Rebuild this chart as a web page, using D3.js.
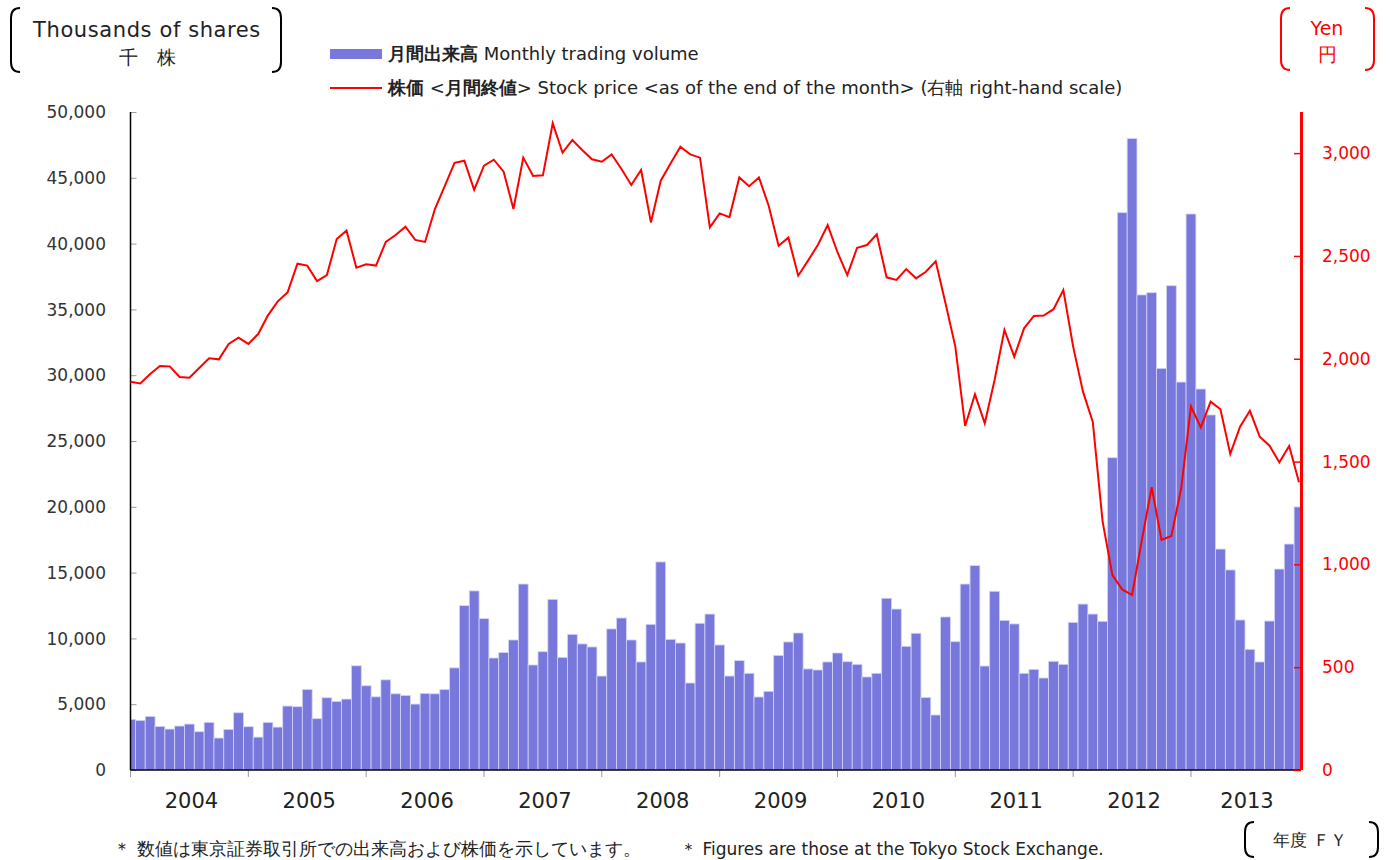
<!DOCTYPE html>
<html>
<head>
<meta charset="utf-8">
<script src="https://cdn.jsdelivr.net/npm/d3@7"></script>
<style>
  body { margin: 0; background: #fff; }
  text { font-family: "DejaVu Sans", sans-serif; }
</style>
</head>
<body>
<svg id="chart"></svg>
<script>
// fiscal years shown on the category axis (each runs April..March)
const fiscalYears = ['2004','2005','2006','2007','2008','2009','2010','2011','2012','2013'];
const monthNames = ['04','05','06','07','08','09','10','11','12','01','02','03'];

// monthly trading volume, thousands of shares
const volume = [
  3850, 3770, 4070, 3310, 3110, 3340, 3490, 2910, 3620, 2430, 3090, 4350,
  3290, 2500, 3620, 3260, 4860, 4810, 6120, 3900, 5490, 5210, 5390, 7920,
  6400, 5560, 6850, 5790, 5670, 5010, 5820, 5790, 6120, 7760, 12490, 13610,
  11500, 8510, 8920, 9880, 14130, 7980, 8990, 12970, 8560, 10310, 9580, 9350,
  7140, 10720, 11550, 9880, 8210, 11070, 15810, 9930, 9650, 6610, 11150, 11850,
  9500, 7140, 8310, 7350, 5550, 5980, 8710, 9730, 10410, 7680, 7600, 8210,
  8890, 8230, 8030, 7070, 7350, 13050, 12230, 9400, 10390, 5500, 4180, 11630,
  9750, 14130, 15530, 7900, 13580, 11370, 11100, 7350, 7650, 6990, 8260, 8030,
  11220, 12610, 11850, 11300, 23730, 42350, 47980, 36100, 36270, 30520, 36800, 29480,
  42250, 28950, 26980, 16790, 15200, 11400, 9170, 8210, 11320, 15270, 17170, 19990
];

// stock price at month end, yen
const price = [
  1888, 1880, 1926, 1965, 1963, 1911, 1908, 1955, 2002, 1997, 2072, 2103,
  2072, 2120, 2211, 2279, 2323, 2462, 2453, 2378, 2407, 2582, 2623, 2443,
  2459, 2453, 2568, 2602, 2642, 2578, 2568, 2728, 2840, 2953, 2963, 2821,
  2939, 2968, 2910, 2728, 2978, 2889, 2892, 3145, 3002, 3064, 3015, 2970,
  2958, 2994, 2923, 2845, 2918, 2663, 2866, 2950, 3031, 2994, 2978, 2639,
  2707, 2689, 2882, 2839, 2882, 2743, 2550, 2589, 2404, 2477, 2553, 2650,
  2518, 2407, 2540, 2553, 2605, 2396, 2383, 2436, 2391, 2423, 2474, 2270,
  2059, 1673, 1827, 1686, 1897, 2140, 2010, 2148, 2208, 2210, 2241, 2334,
  2059, 1840, 1693, 1208, 948, 878, 851, 1119, 1375, 1119, 1138, 1369,
  1767, 1666, 1791, 1754, 1537, 1670, 1747, 1621, 1577, 1496, 1576, 1399
];

const volumeTicks = [0, 5000, 10000, 15000, 20000, 25000, 30000, 35000, 40000, 45000, 50000];
const priceTicks = [0, 500, 1000, 1500, 2000, 2500, 3000];

let months = [];
fiscalYears.forEach(y => monthNames.forEach(m => months.push(y + '-' + m)));

const W = 1393, H = 860;
const plotLeft = 130.5, plotRight = 1299, plotTop = 112, plotBottom = 770;

const svg = d3.select('#chart').attr('width', W).attr('height', H);
svg.append('rect').attr('width', W).attr('height', H).attr('fill', '#fff');

const x = d3.scalePoint().domain(months).range([plotLeft, plotRight]);
const step = x.step();
const yVol = d3.scaleLinear().domain([0, 50000]).range([plotBottom, plotTop]);
const yPrice = d3.scaleLinear().domain([0, 3200]).range([plotBottom, plotTop]);

svg.append('clipPath').attr('id', 'plot-clip')
  .append('rect').attr('x', plotLeft).attr('y', 0).attr('width', 1300 - plotLeft).attr('height', plotBottom);

// bars
svg.append('g').attr('clip-path', 'url(#plot-clip)')
  .selectAll('rect')
  .data(months)
  .enter()
  .append('rect')
  .attr('x', d => x(d) - step / 2)
  .attr('y', (d, i) => yVol(volume[i]))
  .attr('width', step)
  .attr('height', (d, i) => plotBottom - yVol(volume[i]))
  .attr('fill', '#7878dc')
  .attr('stroke', '#d4d4f4')
  .attr('stroke-width', 0.8);

// left axis
const gY = svg.append('g').attr('transform', 'translate(' + plotLeft + ',0)')
  .call(d3.axisRight(yVol).tickValues(volumeTicks).tickSize(6).tickFormat(''));
gY.select('.domain').remove();
gY.selectAll('.tick line').attr('stroke', '#999');
svg.append('line').attr('x1', plotLeft).attr('x2', plotLeft).attr('y1', plotTop).attr('y2', plotBottom)
  .attr('stroke', '#000').attr('stroke-width', 1.5);
svg.append('g').selectAll('text')
  .data(volumeTicks)
  .enter()
  .append('text')
  .attr('x', 106).attr('y', d => yVol(d)).attr('dy', '0.36em')
  .attr('text-anchor', 'end').attr('font-size', 17).attr('fill', '#333')
  .text(d => d3.format(',')(d));

// bottom axis
const yearStarts = fiscalYears.map(y => y + '-04');
svg.append('g').selectAll('line')
  .data(yearStarts)
  .enter()
  .append('line')
  .attr('x1', d => x(d)).attr('x2', d => x(d))
  .attr('y1', plotBottom).attr('y2', plotBottom + 7)
  .attr('stroke', '#999');
svg.append('line').attr('x1', plotLeft).attr('x2', 1300).attr('y1', plotBottom).attr('y2', plotBottom)
  .attr('stroke', '#000').attr('stroke-width', 1.5);
svg.append('g').selectAll('text')
  .data(fiscalYears)
  .enter()
  .append('text')
  .attr('x', (d, i) => {
    let a = x(d + '-04');
    let b = i < fiscalYears.length - 1 ? x(fiscalYears[i + 1] + '-04') : plotRight;
    return (a + b) / 2 + 2;
  })
  .attr('y', 808)
  .attr('text-anchor', 'middle')
  .attr('font-family', 'Lato, sans-serif')
  .attr('font-size', 21).attr('fill', '#222')
  .text(d => d);

// price line
const line = d3.line()
  .x(d => x(d))
  .y((d, i) => yPrice(price[i]));
svg.append('path')
  .datum(months)
  .attr('d', line)
  .attr('fill', 'none')
  .attr('stroke', '#ff0000')
  .attr('stroke-width', 2);

// right axis
const gR = svg.append('g').attr('transform', 'translate(1301,0)')
  .call(d3.axisLeft(yPrice).tickValues(priceTicks).tickSize(7).tickFormat(''));
gR.select('.domain').remove();
gR.selectAll('.tick line').attr('stroke', '#ff0000').attr('stroke-width', 1.5);
svg.append('line').attr('x1', 1301.5).attr('x2', 1301.5).attr('y1', plotTop).attr('y2', plotBottom)
  .attr('stroke', '#ff0000').attr('stroke-width', 3);
svg.append('g').selectAll('text')
  .data(priceTicks)
  .enter()
  .append('text')
  .attr('x', 1322).attr('y', d => yPrice(d)).attr('dy', '0.36em')
  .attr('font-size', 17).attr('fill', '#ff0000')
  .text(d => d3.format(',')(d));

// bracket helper
function bracket(x0, y0, y1, dir, color) {
  let c = 9 * dir;
  svg.append('path')
    .attr('d', 'M' + (x0 + c) + ',' + y0 + ' Q' + x0 + ',' + y0 + ' ' + x0 + ',' + (y0 + 10) +
      ' L' + x0 + ',' + (y1 - 10) + ' Q' + x0 + ',' + y1 + ' ' + (x0 + c) + ',' + y1)
    .attr('fill', 'none').attr('stroke', color).attr('stroke-width', 2);
}

// unit labels
bracket(11, 8, 72, 1, '#000');
bracket(281, 8, 72, -1, '#000');
svg.append('text').attr('x', 147).attr('y', 37).attr('text-anchor', 'middle')
  .attr('font-size', 21).attr('letter-spacing', 0.6).attr('fill', '#222').text('Thousands of shares');
svg.append('text').attr('x', 147).attr('y', 64).attr('text-anchor', 'middle')
  .attr('font-family', '"Noto Sans CJK JP"').attr('font-size', 19).attr('fill', '#222')
  .text('千　株');

bracket(1281, 8, 70, 1, '#ff0000');
bracket(1374, 8, 70, -1, '#ff0000');
svg.append('text').attr('x', 1327).attr('y', 35).attr('text-anchor', 'middle')
  .attr('font-size', 19).attr('fill', '#ff0000').text('Yen');
svg.append('text').attr('x', 1327).attr('y', 61).attr('text-anchor', 'middle')
  .attr('font-family', '"Noto Sans CJK JP"').attr('font-size', 19).attr('fill', '#ff0000')
  .text('円');

bracket(1245, 822, 857, 1, '#000');
bracket(1378, 822, 857, -1, '#000');
svg.append('text').attr('x', 1310).attr('y', 846).attr('text-anchor', 'middle')
  .attr('font-family', '"Noto Sans CJK JP"').attr('font-size', 17).attr('fill', '#222')
  .text('年度 ＦＹ');

// legend
const legend = svg.append('g').attr('font-family', '"Noto Sans CJK JP"').attr('font-size', 18).attr('fill', '#222');
legend.append('rect').attr('x', 330).attr('y', 49).attr('width', 52).attr('height', 10).attr('fill', '#7878dc');
let t1 = legend.append('text').attr('x', 388).attr('y', 60);
t1.append('tspan').attr('font-weight', 'bold').text('月間出来高');
t1.append('tspan').text(' Monthly trading volume');
legend.append('line').attr('x1', 330).attr('x2', 382).attr('y1', 88).attr('y2', 88)
  .attr('stroke', '#ff0000').attr('stroke-width', 2);
let t2 = legend.append('text').attr('x', 388).attr('y', 94);
t2.append('tspan').attr('font-weight', 'bold').text('株価');
t2.append('tspan').text(' <');
t2.append('tspan').attr('font-weight', 'bold').text('月間終値');
t2.append('tspan').text('> Stock price <as of the end of the month> (右軸 right-hand scale)');

// footnotes
svg.append('text').attr('x', 113).attr('y', 855)
  .attr('font-family', '"Noto Sans CJK JP"').attr('font-size', 18.2).attr('fill', '#222')
  .text('＊ 数値は東京証券取引所での出来高および株価を示しています。');
svg.append('text').attr('x', 680).attr('y', 855)
  .attr('font-family', '"Liberation Sans", Arial').attr('font-size', 17).attr('fill', '#222')
  .text('＊ Figures are those at the Tokyo Stock Exchange.');
</script>
</body>
</html>
